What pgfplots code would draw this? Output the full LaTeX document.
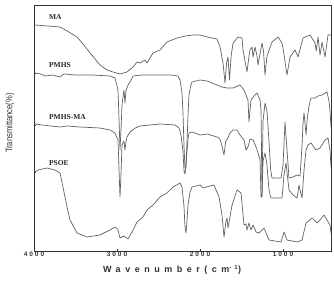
\documentclass[border=0pt]{standalone}
\usepackage{fontspec}
\setmainfont{Liberation Serif}
\newfontfamily\tickfont[LetterSpace=30]{Liberation Sans}
\newfontfamily\xlfont[LetterSpace=50]{Liberation Sans}
\newfontfamily\ylfont{Liberation Sans}
\usepackage{graphicx}
\usepackage{pgfplots}
\pgfplotsset{compat=1.18}

\pgfplotstableread{
wn T
3988 226
3687 224
3600 220
3482 214
3400 206
3325 198
3205 186
3120 181
3048 179
2964 177
2880 179
2807 184
2759 189
2723 188
2663 191
2639 188
2566 198
2482 201
2398 209
2277 213
2180 215
2084 216
2000 216
1916 214
1795 212
1759 204
1723 188
1699 168
1680 188
1663 194
1645 171
1625 195
1602 208
1542 214
1494 213
1482 201
1434 179
1410 195
1398 201
1373 204
1361 194
1337 204
1313 195
1301 186
1253 208
1235 200
1217 176
1193 195
1133 209
1060 214
1012 208
1000 203
952 176
916 194
855 201
819 194
759 213
675 216
614 208
600 200
578 214
554 196
530 209
494 194
458 216
422 216
}\ma

\pgfplotstableread{
wn T
3988 178
3920 177
3860 175
3780 176
3687 174
3640 177
3500 176
3300 176
3084 175
3024 173
2988 161
2975 130
2964 101
2950 125
2940 146
2916 161
2904 148
2892 160
2867 166
2843 169
2807 175
2700 176
2500 176
2350 176
2265 175
2241 171
2217 158
2205 138
2193 105
2181 83
2169 84
2157 108
2145 135
2133 156
2110 166
2096 169
2000 171
1916 170
1795 166
1735 164
1675 163
1602 163
1518 166
1470 161
1422 151
1410 129
1386 151
1340 156
1313 158
1277 151
1265 141
1253 56
1241 130
1217 148
1193 140
1169 110
1150 82
1133 73
1024 73
1000 86
976 129
952 101
928 73
880 74
831 76
795 75
771 105
759 128
747 138
735 128
723 116
711 130
687 145
663 153
614 153
578 155
530 156
494 158
470 159
446 150
434 140
422 124
}\pmhs

\pgfplotstableread{
wn T
3988 127
3900 126
3800 125
3687 124
3600 125
3450 124
3205 123
3084 121
3024 118
2988 111
2975 80
2964 54
2952 76
2940 106
2916 110
2904 101
2890 110
2880 114
2843 119
2780 123
2723 125
2482 127
2301 126
2253 123
2229 116
2205 100
2193 80
2181 77
2169 86
2157 100
2145 112
2133 118
2096 119
2000 116
1916 117
1795 114
1760 112
1735 105
1711 96
1690 110
1675 111
1640 118
1602 121
1554 121
1518 116
1470 111
1446 101
1422 104
1398 112
1361 111
1325 104
1289 95
1277 91
1265 54
1253 54
1241 90
1217 98
1193 86
1169 61
1145 53
1012 53
988 76
964 88
952 79
928 61
880 56
831 53
807 66
795 61
771 53
747 81
723 101
699 106
663 108
602 101
554 103
494 111
458 113
434 101
422 84
}\pmhsma

\pgfplotstableread{
wn T
3988 79
3952 81
3843 83
3747 81
3687 78
3651 64
3602 44
3566 31
3482 18
3361 14
3205 16
3084 21
3024 24
2988 21
2964 13
2916 15
2867 12
2819 19
2759 29
2687 34
2639 41
2566 46
2482 54
2398 58
2325 64
2241 68
2217 64
2193 45
2181 24
2169 18
2157 30
2145 46
2120 59
2096 64
2000 66
1964 63
1880 65
1832 66
1771 54
1735 36
1711 14
1687 30
1675 33
1663 23
1614 46
1554 61
1506 58
1470 26
1446 27
1434 21
1410 28
1386 21
1361 26
1325 19
1289 18
1229 23
1169 11
1024 9
988 19
952 11
831 9
771 11
723 28
651 33
590 28
554 31
506 36
470 31
434 26
422 18
}\psoe

\begin{document}
\begin{tikzpicture}
\useasboundingbox (-34pt,-30pt) rectangle (300pt,251pt);
\begin{axis}[
  at={(0,0)}, anchor=south west,
  width=297pt, height=246pt, scale only axis,
  x dir=reverse, xmin=422, xmax=4000, ymin=0, ymax=246,
  xtick={1000,2000,3000,4000},
  ytick={79,126,178}, yticklabels={},
  tick pos=left, tick align=inside, major tick length=2.5pt,
  tick style={black!80, line width=0.6pt},
  axis line style={black!80, line width=0.8pt},
  /pgf/number format/assume math mode=true,
  /pgf/number format/set thousands separator={},
  xticklabel style={font=\tickfont\bfseries\fontsize{6.5}{7}\selectfont, black!80, inner sep=1pt},
  xlabel={\xlfont\bfseries\fontsize{9}{10}\selectfont Wavenumber(cm\textsuperscript{-1})},
  xlabel style={at={(axis description cs:0.465,-0.077)}, anchor=center, black!80},
  ylabel={\scalebox{0.8}[1]{\ylfont\fontsize{9.5}{10}\selectfont Transmittance(\%)}},
  ylabel style={at={(axis description cs:-0.081,0.52)}, anchor=center, rotate=0, black!80},
  curve/.style={black!62, line width=0.7pt, line join=round, mark=none},
]
\addplot[curve] table[x=wn,y=T] {\ma};
\addplot[curve] table[x=wn,y=T] {\pmhs};
\addplot[curve] table[x=wn,y=T] {\pmhsma};
\addplot[curve] table[x=wn,y=T] {\psoe};
\node[anchor=west, font=\bfseries\fontsize{7.5}{8}\selectfont, black!85] at (axis cs:3860,234) {MA};
\node[anchor=west, font=\bfseries\fontsize{7.5}{8}\selectfont, black!85] at (axis cs:3860,186) {PMHS};
\node[anchor=west, font=\bfseries\fontsize{7.5}{8}\selectfont, black!85] at (axis cs:3860,134) {PMHS-MA};
\node[anchor=west, font=\bfseries\fontsize{7.5}{8}\selectfont, black!85] at (axis cs:3860,88) {PSOE};
\end{axis}
\end{tikzpicture}
\end{document}
